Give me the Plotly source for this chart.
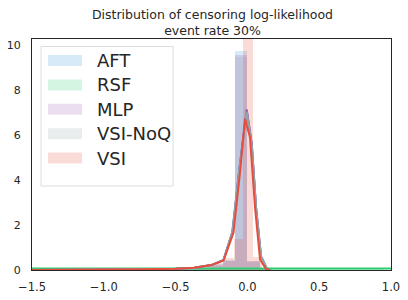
import plotly.graph_objects as go

# ---- data ----
models = ["AFT", "RSF", "MLP", "VSI-NoQ", "VSI"]
colors = ["#3498db", "#2ecc71", "#9b59b6", "#95a5a6", "#e74c3c"]

# histogram bins: centers, widths, density heights
aft_hist_x = [-0.468, -0.383, -0.298, -0.213, -0.128, -0.043, 0.042, 0.127]
aft_hist_w = [0.085, 0.085, 0.085, 0.085, 0.085, 0.085, 0.085, 0.085]
aft_hist_y = [0.04, 0.07, 0.12, 0.25, 0.45, 9.73, 0.35, 0.03]

rsf_hist_x = [-1.3, -1.0, -0.7, -0.4, -0.1, 0.2, 0.5, 0.8]
rsf_hist_w = [0.3, 0.3, 0.3, 0.3, 0.3, 0.3, 0.3, 0.3]
rsf_hist_y = [0.05, 0.05, 0.06, 0.07, 0.08, 0.07, 0.06, 0.05]

mlp_hist_x = [-0.468, -0.383, -0.298, -0.213, -0.128, -0.043, 0.042, 0.127]
mlp_hist_w = [0.085, 0.085, 0.085, 0.085, 0.085, 0.085, 0.085, 0.085]
mlp_hist_y = [0.04, 0.06, 0.11, 0.22, 0.42, 9.55, 0.4, 0.03]

noq_hist_x = [-0.468, -0.383, -0.298, -0.213, -0.128, -0.043, 0.042, 0.127]
noq_hist_w = [0.085, 0.085, 0.085, 0.085, 0.085, 0.085, 0.085, 0.085]
noq_hist_y = [0.04, 0.06, 0.1, 0.2, 0.4, 9.5, 0.38, 0.03]

vsi_hist_x = [-0.32, -0.255, -0.19, -0.125, -0.06, 0.005, 0.07]
vsi_hist_w = [0.065, 0.065, 0.065, 0.065, 0.065, 0.065, 0.065]
vsi_hist_y = [0.1, 0.2, 0.3, 0.54, 1.36, 13.5, 0.6]

# KDE curves
aft_kde_x = [-1.5, -1.0, -0.7, -0.5, -0.37, -0.25, -0.166, -0.105, -0.06, -0.005, 0.03, 0.06, 0.095, 0.14]
aft_kde_y = [0.0, 0.01, 0.03, 0.06, 0.1, 0.22, 0.45, 1.7, 4.3, 7.1, 5.6, 2.8, 0.6, 0.0]

rsf_kde_x = [-1.5, -1.0, -0.5, 0.0, 0.5, 1.0]
rsf_kde_y = [0.07, 0.07, 0.07, 0.07, 0.07, 0.07]

mlp_kde_x = [-1.5, -1.0, -0.7, -0.5, -0.37, -0.25, -0.166, -0.103, -0.058, -0.005, 0.03, 0.06, 0.095, 0.14]
mlp_kde_y = [0.0, 0.01, 0.03, 0.06, 0.1, 0.22, 0.44, 1.7, 4.35, 7.15, 5.65, 2.8, 0.6, 0.0]

noq_kde_x = [-1.5, -1.0, -0.7, -0.5, -0.37, -0.25, -0.166, -0.104, -0.059, -0.005, 0.03, 0.06, 0.095, 0.14]
noq_kde_y = [0.0, 0.01, 0.03, 0.06, 0.1, 0.22, 0.44, 1.7, 4.3, 7.05, 5.6, 2.8, 0.6, 0.0]

vsi_kde_x = [-1.5, -1.0, -0.7, -0.5, -0.37, -0.25, -0.166, -0.097, -0.05, -0.017, 0.018, 0.053, 0.088, 0.129, 0.157]
vsi_kde_y = [0.0, 0.01, 0.03, 0.06, 0.1, 0.22, 0.42, 1.66, 4.42, 6.73, 5.91, 2.78, 0.47, 0.05, 0.0]

hists = [(aft_hist_x, aft_hist_w, aft_hist_y), (rsf_hist_x, rsf_hist_w, rsf_hist_y),
         (mlp_hist_x, mlp_hist_w, mlp_hist_y), (noq_hist_x, noq_hist_w, noq_hist_y),
         (vsi_hist_x, vsi_hist_w, vsi_hist_y)]
kdes = [(aft_kde_x, aft_kde_y), (rsf_kde_x, rsf_kde_y), (mlp_kde_x, mlp_kde_y),
        (noq_kde_x, noq_kde_y), (vsi_kde_x, vsi_kde_y)]

x_ticks = [-1.5, -1.0, -0.5, 0.0, 0.5, 1.0]
y_ticks = [0, 2, 4, 6, 8, 10]


def rgba(hexc, a):
    h = hexc.lstrip("#")
    r, g, b = int(h[0:2], 16), int(h[2:4], 16), int(h[4:6], 16)
    return f"rgba({r},{g},{b},{a})"


fig = go.Figure()
for name, c, (hx, hw, hy) in zip(models, colors, hists):
    fig.add_trace(go.Bar(x=hx, y=hy, width=hw, name=name,
                         marker=dict(color=rgba(c, 0.2), line=dict(width=0)),
                         showlegend=False, hoverinfo="skip"))
for name, c, (kx, ky) in zip(models, colors, kdes):
    fig.add_trace(go.Scatter(x=kx, y=ky, mode="lines", name=name,
                             line=dict(color=c, width=2), showlegend=False))

# page body has an 8px margin: figure origin sits at window (8, 8)
OFF = 8
FW, FH = 400, 292
PL, PR, PT, PB = 32 - OFF, 391 - OFF, 39 - OFF, 270 - OFF  # plot box in figure px

font_family = "DejaVu Sans"
fig.update_layout(
    width=FW, height=FH,
    margin=dict(l=PL, r=FW - PR, t=PT, b=FH - PB, autoexpand=False),
    barmode="overlay", bargap=0,
    plot_bgcolor="white", paper_bgcolor="white",
    font=dict(family=font_family, size=11.5, color="#262626"),
    title=dict(text="Distribution of censoring log-likelihood<br>event rate 30%",
               x=(212.5 - OFF) / FW, xanchor="center",
               yref="container", y=1.0 - (18.5 - OFF) / FH, yanchor="middle",
               pad=dict(t=0, b=0),
               font=dict(family=font_family, size=12.5, color="#262626")),
    xaxis=dict(range=[-1.5, 1.0], tickvals=x_ticks, tickformat=".1f",
               showgrid=False, zeroline=False, showline=True, mirror=True,
               linecolor="#262626", linewidth=1.3, ticks="", automargin=False,
               ticklabelstandoff=6,
               tickfont=dict(size=11.5, color="#262626")),
    yaxis=dict(range=[0, 10.28], tickvals=y_ticks,
               showgrid=False, zeroline=False, showline=True, mirror=True,
               linecolor="#262626", linewidth=1.3, ticks="", automargin=False,
               ticklabelstandoff=8,
               tickfont=dict(size=11, color="#262626")),
)

# custom legend (wide matplotlib-style patches); coordinates in window px
W, H = PR - PL, PB - PT
def px2paper(x, y):
    return (x - OFF - PL) / W, (PB - (y - OFF)) / H

x0, y0 = px2paper(41, 46.5)
x1, y1 = px2paper(173, 186)
fig.add_shape(type="rect", xref="paper", yref="paper", x0=x0, y0=y1, x1=x1, y1=y0,
              line=dict(color="#dcdcdc", width=1), fillcolor="rgba(255,255,255,0.8)")
for i, (name, c) in enumerate(zip(models, colors)):
    cy = 60.5 + i * 24.4
    a0, b0 = px2paper(48, cy - 5.5)
    a1, b1 = px2paper(82, cy + 5.5)
    fig.add_shape(type="rect", xref="paper", yref="paper", x0=a0, y0=b1, x1=a1, y1=b0,
                  line=dict(width=0), fillcolor=rgba(c, 0.2))
    tx, ty = px2paper(95, cy)
    fig.add_annotation(xref="paper", yref="paper", x=tx, y=ty, text=name,
                       showarrow=False, xanchor="left", yanchor="middle",
                       font=dict(family=font_family, size=18, color="#262626"))

fig.write_html("out.html")
